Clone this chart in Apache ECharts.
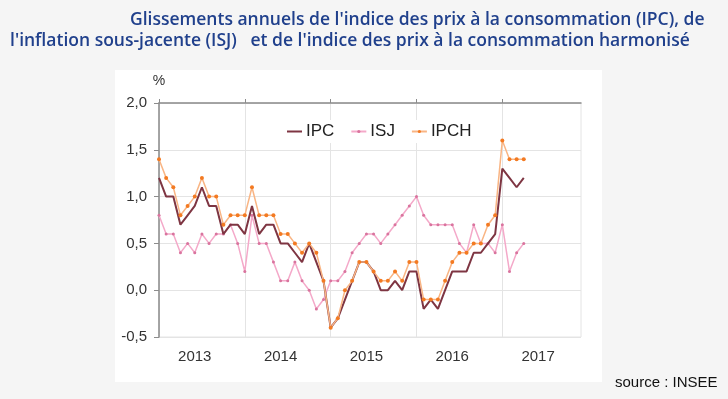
<!DOCTYPE html>
<html>
<head>
<meta charset="utf-8">
<script src="https://cdn.jsdelivr.net/npm/echarts@6/dist/echarts.min.js"></script>
<style>
  html, body { margin: 0; padding: 0; background: #f5f5f5; }
  #wrap { position: relative; width: 728px; height: 399px; }
  #panel { position: absolute; left: 115px; top: 70px; width: 487px; height: 312px; background: #fff; }
  #chart { position: absolute; left: 0; top: 0; width: 728px; height: 399px; }
</style>
</head>
<body>
<div id="wrap">
  <div id="panel"></div>
  <div id="chart"></div>
</div>
<script>
// monthly categories, Jan 2013 -> Dec 2017
const years = ['2013', '2014', '2015', '2016', '2017'];
const months = [];
years.forEach(y => {
    for (let m = 1; m <= 12; m++) months.push(y + '-' + String(m).padStart(2, '0'));
});

const ipc = [
    1.2, 1.0, 1.0, 0.7, 0.8, 0.9, 1.1, 0.9, 0.9, 0.6, 0.7, 0.7,
    0.6, 0.9, 0.6, 0.7, 0.7, 0.5, 0.5, 0.4, 0.3, 0.5, 0.3, 0.1,
    -0.4, -0.3, -0.1, 0.1, 0.3, 0.3, 0.2, 0.0, 0.0, 0.1, 0.0, 0.2,
    0.2, -0.2, -0.1, -0.2, 0.0, 0.2, 0.2, 0.2, 0.4, 0.4, 0.5, 0.6,
    1.3, 1.2, 1.1, 1.2
];
const isj = [
    0.8, 0.6, 0.6, 0.4, 0.5, 0.4, 0.6, 0.5, 0.6, 0.6, 0.7, 0.5,
    0.2, 0.8, 0.5, 0.5, 0.3, 0.1, 0.1, 0.3, 0.1, 0.0, -0.2, -0.1,
    0.1, 0.1, 0.2, 0.4, 0.5, 0.6, 0.6, 0.5, 0.6, 0.7, 0.8, 0.9,
    1.0, 0.8, 0.7, 0.7, 0.7, 0.7, 0.5, 0.4, 0.7, 0.5, 0.5, 0.4,
    0.7, 0.2, 0.4, 0.5
];
const ipch = [
    1.4, 1.2, 1.1, 0.8, 0.9, 1.0, 1.2, 1.0, 1.0, 0.7, 0.8, 0.8,
    0.8, 1.1, 0.8, 0.8, 0.8, 0.6, 0.6, 0.5, 0.4, 0.5, 0.4, 0.1,
    -0.4, -0.3, 0.0, 0.1, 0.3, 0.3, 0.2, 0.1, 0.1, 0.2, 0.1, 0.3,
    0.3, -0.1, -0.1, -0.1, 0.1, 0.3, 0.4, 0.4, 0.5, 0.5, 0.7, 0.8,
    1.6, 1.4, 1.4, 1.4
];

const titleLines = [
    "Glissements annuels de l'indice des prix à la consommation (IPC), de",
    "l'inflation sous-jacente (ISJ)   et de l'indice des prix à la consommation harmonisé"
];

const chart = echarts.init(document.getElementById('chart'));
const gridColor = '#e4e4e4';
const axisColor = '#8c8c8c';
const isJan = i => i % 12 === 0;

chart.setOption({
    animation: false,
    textStyle: { fontFamily: 'Liberation Sans, Arial, sans-serif' },
    grid: { left: 159, right: 147, top: 103, bottom: 62, show: true, borderColor: gridColor, borderWidth: 1 },
    legend: {
        left: 280, top: 120,
        backgroundColor: '#fff',
        padding: [3, 6],
        itemWidth: 15, itemHeight: 4, itemGap: 16,
        textStyle: { fontSize: 17, color: '#222', padding: [0, 0, 0, -1] },
        data: [{ name: 'IPC', itemStyle: { opacity: 0 } }, 'ISJ', 'IPCH']
    },
    xAxis: [{
        type: 'category',
        data: months,
        boundaryGap: false,
        axisLine: { show: false },
        axisTick: { show: false },
        axisLabel: {
            interval: i => i % 12 === 5,
            formatter: v => v.slice(0, 4),
            fontSize: 15, color: '#333', margin: 12
        },
        splitLine: { show: true, interval: isJan, lineStyle: { color: gridColor, width: 1 } }
    }, {
        type: 'category',
        data: months,
        boundaryGap: false,
        axisLine: { show: true, onZero: true, lineStyle: { color: axisColor, width: 1.5 } },
        axisTick: { show: true, interval: isJan, length: 4, lineStyle: { color: axisColor } },
        axisLabel: { show: false },
        splitLine: { show: false }
    }],
    yAxis: {
        type: 'value',
        min: -0.5, max: 2, interval: 0.5,
        name: '%',
        nameLocation: 'end',
        nameGap: 15,
        nameTextStyle: { fontSize: 14, color: '#333', align: 'center' },
        axisLine: { show: true, onZero: false, lineStyle: { color: axisColor, width: 1.5 } },
        axisTick: { show: true, inside: false, length: 5, lineStyle: { color: axisColor } },
        axisLabel: { fontSize: 15, color: '#333', margin: 12, formatter: v => v.toFixed(1).replace('.', ',') },
        splitLine: { show: true, lineStyle: { color: gridColor, width: 1 } }
    },
    series: [{
        name: 'IPC',
        type: 'line',
        data: ipc,
        symbol: 'none',
        color: '#7e3542',
        lineStyle: { color: '#7e3542', width: 2 },
        z: 3
    }, {
        name: 'ISJ',
        type: 'line',
        data: isj,
        symbol: 'circle',
        symbolSize: 3,
        itemStyle: { color: '#d9749e' },
        lineStyle: { color: '#f4a9c9', width: 1.5 },
        z: 2
    }, {
        name: 'IPCH',
        type: 'line',
        data: ipch,
        symbol: 'circle',
        symbolSize: 4,
        itemStyle: { color: '#f37a22' },
        lineStyle: { color: '#f9b584', width: 1.5 },
        z: 4
    }],
    graphic: [{
        type: 'text', left: 130, top: 11,
        style: { text: titleLines[0], font: '600 17.5px "Open Sans"', fill: '#20408c' }
    }, {
        type: 'text', left: 10, top: 32,
        style: { text: titleLines[1], font: '600 17.5px "Open Sans"', fill: '#20408c' }
    }, {
        type: 'text', left: 615, top: 375,
        style: { text: 'source : INSEE', font: '15px "Liberation Sans", Arial', fill: '#111' }
    }]
});
</script>
</body>
</html>
